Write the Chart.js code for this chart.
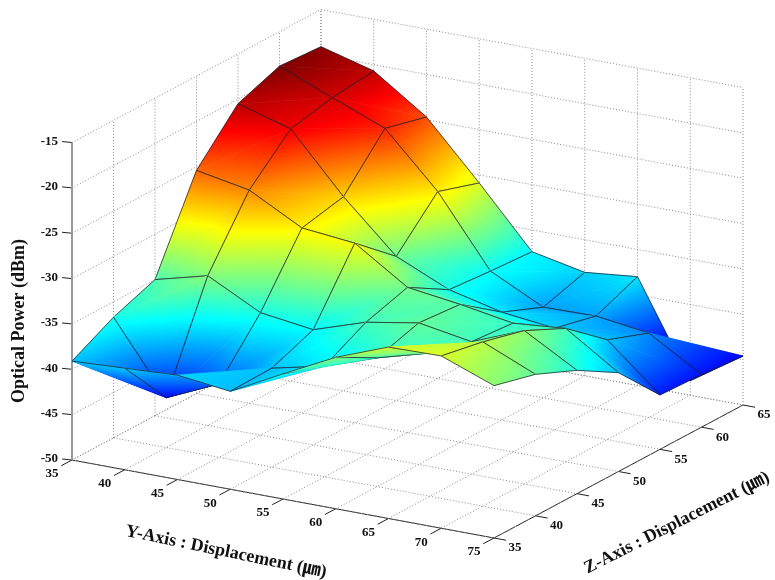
<!DOCTYPE html>
<html>
<head>
<meta charset="utf-8">
<title>Optical Power</title>
<script src="https://cdn.jsdelivr.net/npm/chart.js@4"></script>
<style>
  html, body { margin: 0; padding: 0; background: #fff; }
  canvas { display: block; }
</style>
</head>
<body>
<canvas id="surfaceChart" width="775" height="580"></canvas>
<script>
// ==================== DATA ====================
const yTicks = [35, 40, 45, 50, 55, 60, 65, 70, 75];
const zTicks = [35, 40, 45, 50, 55, 60, 65];
const powerTicks = [-50, -45, -40, -35, -30, -25, -20, -15];

// optical power (dBm), one list per Y position, running over zTicks
const powerY35 = [-39.1, -36.7, -35.0, -25.4, -20.5, -18.8, -19.1];
const powerY40 = [-38.8, -44.5, -33.5, -26.5, -22.2, -21.2, -20.7];
const powerY45 = [-38.5, -41.9, -36.5, -29.6, -28.6, -23.5, -24.7];
const powerY50 = [-39.2, -39.1, -37.3, -30.2, -34.1, -29.4, -30.9];
const powerY55 = [-36.2, -37.8, -35.4, -34.0, -36.7, -37.1, -37.4];
const powerY60 = [-33.3, -35.8, -34.4, -34.8, -38.1, -40.0, -38.6];
const powerY65 = [-31.1, -34.2, -35.4, -35.8, -38.8, -39.9, -38.0];
const powerY70 = [-31.0, -31.9, -33.1, -35.3, -39.0, -40.7, -48.4];
const powerY75 = [-33.2, -34.4, -36.4, -39.1, -44.0, -44.2, -44.6];
const powerRows = [powerY35, powerY40, powerY45, powerY50, powerY55, powerY60, powerY65, powerY70, powerY75];

const yTitle = 'Y-Axis : Displacement (㎛)';
const zTitle = 'Z-Axis : Displacement (㎛)';
const powerTitle = 'Optical Power (dBm)';

// ==================== 3D PROJECTION ====================
const Y0 = 35, Z0 = 35, P0 = -50;
const Y1 = yTicks[yTicks.length - 1], Z1 = zTicks[zTicks.length - 1], P1 = powerTicks[powerTicks.length - 1];

function projX(y, z) { return 72 + 10.55 * (y - Y0) + 8.3 * (z - Z0); }
function projY(y, z, p) { return 460 + 1.95 * (y - Y0) - 4.433 * (z - Z0) - 9.07 * (p - P0); }
function pt(y, z, p) { return { x: projX(y, z), y: projY(y, z, p) }; }

const allPower = powerRows.flat();
const cMin = Math.min(...allPower), cMax = Math.max(...allPower);

// ==================== LINE DATASETS ====================
function dotted(a, b) {
  return { data: [a, b], showLine: true, pointRadius: 0, borderColor: '#8a8a8a', borderWidth: 1, borderDash: [1, 2] };
}
function solid(a, b, color, width) {
  return { data: [a, b], showLine: true, pointRadius: 0, borderColor: color || '#222', borderWidth: width || 1 };
}

const datasets = [];
// floor
yTicks.forEach(y => datasets.push(dotted(pt(y, Z0, P0), pt(y, Z1, P0))));
zTicks.forEach(z => datasets.push(dotted(pt(Y0, z, P0), pt(Y1, z, P0))));
// wall at the far Z side
yTicks.forEach(y => datasets.push(dotted(pt(y, Z1, P0), pt(y, Z1, P1))));
powerTicks.forEach(p => datasets.push(dotted(pt(Y0, Z1, p), pt(Y1, Z1, p))));
// wall at the Y = 35 side
zTicks.forEach(z => { if (z > Z0) datasets.push(dotted(pt(Y0, z, P0), pt(Y0, z, P1))); });
powerTicks.forEach(p => datasets.push(dotted(pt(Y0, Z0, p), pt(Y0, Z1, p))));
// axes and ticks
datasets.push(solid(pt(Y0, Z0, P0), pt(Y1, Z0, P0)));
datasets.push(solid(pt(Y1, Z0, P0), pt(Y1, Z1, P0)));
datasets.push(solid(pt(Y0, Z0, P0), pt(Y0, Z0, P1), '#999', 2));
yTicks.forEach(y => datasets.push(solid(pt(y, Z0, P0), pt(y, Z0 - 1.3, P0))));
zTicks.forEach(z => datasets.push(solid(pt(Y1, z, P0), pt(Y1 + 1.15, z, P0))));
powerTicks.forEach(p => datasets.push(solid(pt(Y0, Z0, p), { x: projX(Y0, Z0) - 10, y: projY(Y0, Z0, p) - 1 })));

// ==================== JET COLOURS ====================
function jet(t) {
  const c = v => Math.round(255 * Math.max(0, Math.min(1, v)));
  return `rgb(${c(1.5 - Math.abs(4 * t - 3))},${c(1.5 - Math.abs(4 * t - 2))},${c(1.5 - Math.abs(4 * t - 1))})`;
}
const LEVELS = 64;

// fill style for a triangle whose colour follows power linearly
function triangleFill(ctx, a, b, c) {
  const d1x = b.x - a.x, d1y = b.y - a.y, d2x = c.x - a.x, d2y = c.y - a.y;
  const det = d1x * d2y - d2x * d1y;
  const mean = (a.v + b.v + c.v) / 3;
  if (Math.abs(det) < 0.5) return jet((mean - cMin) / (cMax - cMin));
  const gx = ((b.v - a.v) * d2y - (c.v - a.v) * d1y) / det;
  const gy = ((c.v - a.v) * d1x - (b.v - a.v) * d2x) / det;
  const g2 = gx * gx + gy * gy;
  if (g2 < 1e-7) return jet((mean - cMin) / (cMax - cMin));
  const s = (cMin - a.v) / g2, e = (cMax - a.v) / g2;
  const grad = ctx.createLinearGradient(a.x + gx * s, a.y + gy * s, a.x + gx * e, a.y + gy * e);
  for (let k = 0; k <= LEVELS; k++) grad.addColorStop(k / LEVELS, jet(k / LEVELS));
  return grad;
}

// ==================== SURFACE + TEXT PLUGIN ====================
const surfacePlugin = {
  id: 'surface',
  afterDatasetsDraw(chart) {
    const ctx = chart.ctx, sx = chart.scales.x, sy = chart.scales.y;
    const vert = (i, j) => {
      const y = yTicks[i], z = zTicks[j], p = powerRows[i][j];
      return { x: sx.getPixelForValue(projX(y, z)), y: sy.getPixelForValue(projY(y, z, p)), v: p };
    };
    const tri = (a, b, c) => {
      const fill = triangleFill(ctx, a, b, c);
      ctx.beginPath();
      ctx.moveTo(a.x, a.y); ctx.lineTo(b.x, b.y); ctx.lineTo(c.x, c.y); ctx.closePath();
      ctx.fillStyle = fill; ctx.fill();
      ctx.strokeStyle = fill; ctx.lineWidth = 0.6; ctx.stroke();
    };
    const edge = (a, b, c) => {
      ctx.beginPath();
      ctx.moveTo(a.x, a.y); ctx.lineTo(b.x, b.y); ctx.lineTo(c.x, c.y);
      ctx.strokeStyle = 'rgba(30,30,40,0.75)'; ctx.lineWidth = 1; ctx.stroke();
    };

    // back to front: camera sits towards high Y and low Z
    const cells = [];
    for (let i = 0; i < yTicks.length - 1; i++) {
      for (let j = 0; j < zTicks.length - 1; j++) cells.push([i, j]);
    }
    cells.sort((m, n) => (m[0] - m[1]) - (n[0] - n[1]));

    ctx.save();
    ctx.lineJoin = 'round';
    cells.forEach(([i, j]) => {
      const a = vert(i, j), b = vert(i + 1, j), c = vert(i + 1, j + 1), d = vert(i, j + 1);
      tri(a, d, c); edge(a, d, c);
      tri(a, b, c); edge(a, b, c);
    });

    // tick labels
    ctx.fillStyle = '#111';
    ctx.font = 'bold 13px "Liberation Serif"';
    ctx.textAlign = 'center';
    ctx.textBaseline = 'middle';
    yTicks.forEach(y => {
      ctx.fillText(String(y), sx.getPixelForValue(projX(y, Z0)) - 20, sy.getPixelForValue(projY(y, Z0, P0)) + 14);
    });
    zTicks.forEach(z => {
      ctx.fillText(String(z), sx.getPixelForValue(projX(Y1, z)) + 21, sy.getPixelForValue(projY(Y1, z, P0)) + 10);
    });
    ctx.textAlign = 'right';
    powerTicks.forEach(p => {
      ctx.fillText(String(p), sx.getPixelForValue(projX(Y0, Z0)) - 14, sy.getPixelForValue(projY(Y0, Z0, p)) - 1);
    });

    // axis titles
    const title = (text, x, y, deg, size) => {
      ctx.save();
      ctx.translate(x, y);
      ctx.rotate(deg * Math.PI / 180);
      ctx.textAlign = 'center';
      ctx.font = `bold ${size}px "Liberation Serif", "Noto Sans CJK KR"`;
      ctx.fillText(text, 0, 0);
      ctx.restore();
    };
    title(powerTitle, 19, 321, -90, 18);
    title(yTitle, 226, 552, 11.7, 18);
    title(zTitle, 677, 523, -27, 18);
    ctx.restore();
  }
};

// ==================== CHART ====================
new Chart(document.getElementById('surfaceChart'), {
  type: 'scatter',
  data: { datasets },
  plugins: [surfacePlugin],
  options: {
    responsive: false,
    animation: false,
    layout: { padding: 0 },
    plugins: { legend: { display: false }, tooltip: { enabled: false } },
    scales: {
      x: { type: 'linear', display: false, min: 0, max: 775 },
      y: { type: 'linear', display: false, min: 0, max: 580, reverse: true }
    }
  }
});
</script>
</body>
</html>
